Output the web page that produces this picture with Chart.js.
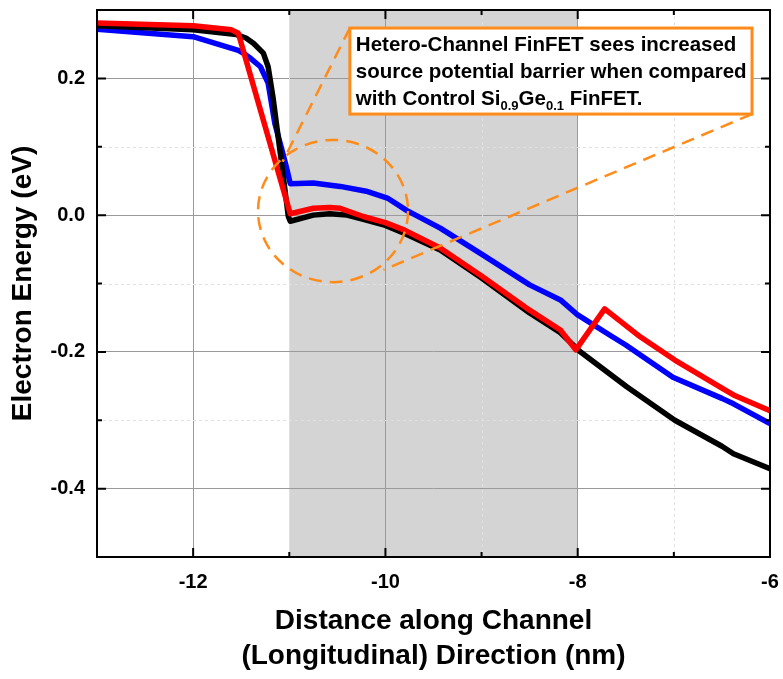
<!DOCTYPE html>
<html>
<head>
<meta charset="utf-8">
<script src="https://cdn.jsdelivr.net/npm/chart.js@4.4.1/dist/chart.umd.min.js"></script>
<style>
  body { margin: 0; background: #fff; }
  #wrap { width: 783px; height: 679px; }
</style>
</head>
<body>
<div id="wrap"><canvas id="myChart" width="783" height="679"></canvas></div>
<script>
// band energy along the channel (nm, eV)
var xBlack = [-13, -12, -11.55, -11.45, -11.37, -11.27, -11.22, -11.17, -11.08, -11.01, -10.99, -10.75, -10.58, -10.4, -10.23, -10.0, -9.8, -9.43, -9.0, -8.5, -8.18, -7.98, -7.49, -6.99, -6.5, -6.38, -6.0];
var yBlack = [0.277, 0.271, 0.264, 0.259, 0.251, 0.237, 0.217, 0.173, 0.076, -0.002, -0.009, 0.0, 0.002, 0.0, -0.006, -0.015, -0.027, -0.051, -0.092, -0.143, -0.172, -0.199, -0.251, -0.300, -0.338, -0.349, -0.371];

var xBlue = [-13, -12, -11.53, -11.48, -11.4, -11.3, -11.22, -11.15, -11.04, -10.99, -10.75, -10.47, -10.2, -9.98, -9.78, -9.43, -9.0, -8.5, -8.18, -8.0, -7.66, -7.5, -7.01, -6.5, -6.38, -6.0];
var yBlue = [0.272, 0.261, 0.241, 0.237, 0.229, 0.217, 0.193, 0.134, 0.076, 0.046, 0.047, 0.042, 0.035, 0.025, 0.007, -0.019, -0.057, -0.102, -0.124, -0.146, -0.176, -0.190, -0.237, -0.268, -0.276, -0.305];

var xRed = [-13, -12, -11.6, -11.53, -10.99, -10.75, -10.58, -10.47, -10.23, -10.0, -9.8, -9.43, -9.0, -8.5, -8.18, -8.02, -7.72, -7.35, -6.99, -6.5, -6.38, -6.0];
var yRed = [0.281, 0.277, 0.271, 0.266, 0.002, 0.010, 0.011, 0.010, -0.002, -0.011, -0.022, -0.048, -0.089, -0.139, -0.168, -0.197, -0.137, -0.178, -0.212, -0.253, -0.263, -0.286];

// axis ticks
var xTicks = [-13, -12, -11, -10, -9, -8, -7, -6];
var xMajor = [-12, -10, -8, -6];
var yTicks = [-0.5, -0.4, -0.3, -0.2, -0.1, 0.0, 0.1, 0.2, 0.3];
var yMajor = [-0.4, -0.2, 0.0, 0.2];

// channel region and callout (data units)
var channel = [-11, -8];
var circle = { x: -10.545, y: 0.006, rx: 0.78, ry: 0.104 };
var box = { x1: -10.37, x2: -6.187, y1: 0.2736, y2: 0.1478 };
var leader1 = [[-10.37, 0.2736], [-11.07, 0.078]];
var leader2 = [[-6.187, 0.1478], [-10.02, -0.08]];

var FONT = "'Liberation Sans', Arial, sans-serif";
var ORANGE = '#ff8c1a';

function pts(xs, ys) {
    return xs.map(function (x, i) { return { x: x, y: ys[i] }; });
}
function isMajor(list, v) {
    return list.some(function (m) { return Math.abs(m - v) < 1e-6; });
}
function noPad(s) {
    s.paddingLeft = 0; s.paddingRight = 0; s.paddingTop = 0; s.paddingBottom = 0;
}

var deco = {
    id: 'deco',
    beforeDraw: function (chart) {
        var c = chart.ctx, a = chart.chartArea, xs = chart.scales.x;
        var l = xs.getPixelForValue(channel[0]), r = xs.getPixelForValue(channel[1]);
        c.save();
        c.fillStyle = '#d4d4d4';
        c.fillRect(l, a.top, r - l, a.bottom - a.top);
        c.restore();
    },
    beforeDatasetsDraw: function (chart) {
        // minor dashed grid
        var c = chart.ctx, a = chart.chartArea, xs = chart.scales.x, ys = chart.scales.y;
        c.save();
        c.strokeStyle = '#e0e0e0';
        c.lineWidth = 1;
        c.setLineDash([3, 3]);
        xTicks.forEach(function (v) {
            if (isMajor(xMajor, v) || v === xTicks[0]) return;
            var p = Math.round(xs.getPixelForValue(v)) + 0.5;
            c.beginPath(); c.moveTo(p, a.top); c.lineTo(p, a.bottom); c.stroke();
        });
        yTicks.forEach(function (v) {
            if (isMajor(yMajor, v) || v === yTicks[0] || v === yTicks[yTicks.length - 1]) return;
            var p = Math.round(ys.getPixelForValue(v)) + 0.5;
            c.beginPath(); c.moveTo(a.left, p); c.lineTo(a.right, p); c.stroke();
        });
        c.restore();
    },
    afterDatasetsDraw: function (chart) {
        var c = chart.ctx, a = chart.chartArea, xs = chart.scales.x, ys = chart.scales.y;
        var X = function (v) { return xs.getPixelForValue(v); };
        var Y = function (v) { return ys.getPixelForValue(v); };
        c.save();
        // frame + inward ticks
        c.strokeStyle = '#000';
        c.lineWidth = 2;
        c.strokeRect(a.left, a.top, a.right - a.left, a.bottom - a.top);
        xTicks.forEach(function (v) {
            var len = isMajor(xMajor, v) ? 9 : 5, p = X(v);
            c.beginPath();
            c.moveTo(p, a.bottom); c.lineTo(p, a.bottom - len);
            c.moveTo(p, a.top); c.lineTo(p, a.top + len);
            c.stroke();
        });
        yTicks.forEach(function (v) {
            var len = isMajor(yMajor, v) ? 9 : 5, p = Y(v);
            c.beginPath();
            c.moveTo(a.left, p); c.lineTo(a.left + len, p);
            c.moveTo(a.right, p); c.lineTo(a.right - len, p);
            c.stroke();
        });

        // dashed circle and leader lines
        c.strokeStyle = ORANGE;
        c.lineWidth = 2.5;
        c.setLineDash([13, 8]);
        c.beginPath();
        c.ellipse(X(circle.x), Y(circle.y), X(circle.x + circle.rx) - X(circle.x),
            Y(circle.y) - Y(circle.y + circle.ry), 0, 0, Math.PI * 2);
        c.stroke();
        [leader1, leader2].forEach(function (ln) {
            c.beginPath();
            c.moveTo(X(ln[0][0]), Y(ln[0][1]));
            c.lineTo(X(ln[1][0]), Y(ln[1][1]));
            c.stroke();
        });
        c.setLineDash([]);

        // callout box
        var bx = X(box.x1), by = Y(box.y1), bw = X(box.x2) - bx, bh = Y(box.y2) - by;
        c.fillStyle = '#fff';
        c.fillRect(bx, by, bw, bh);
        c.lineWidth = 3;
        c.strokeRect(bx, by, bw, bh);

        var big = 'bold 20.5px ' + FONT, small = 'bold 13px ' + FONT;
        c.fillStyle = '#000';
        c.textBaseline = 'alphabetic';
        c.textAlign = 'left';
        var tx = bx + 6;
        c.font = big;
        c.fillText('Hetero-Channel FinFET sees increased', tx, by + 23);
        c.fillText('source potential barrier when compared', tx, by + 50);
        var parts = [['with Control Si', 0], ['0.9', 1], ['Ge', 0], ['0.1', 1], [' FinFET.', 0]];
        var cx = tx;
        parts.forEach(function (p) {
            c.font = p[1] ? small : big;
            c.fillText(p[0], cx, by + 77 + (p[1] ? 5 : 0));
            cx += c.measureText(p[0]).width;
        });
        c.restore();
    }
};

var ctx = document.getElementById('myChart').getContext('2d');
var chart = new Chart(ctx, {
    type: 'scatter',
    data: {
        datasets: [
            { label: 'Hetero', data: pts(xRed, yRed), borderColor: '#ff0000', order: 1 },
            { label: 'Control', data: pts(xBlack, yBlack), borderColor: '#000000', order: 2 },
            { label: 'Other', data: pts(xBlue, yBlue), borderColor: '#0000ff', order: 3 }
        ]
    },
    options: {
        responsive: false,
        animation: false,
        showLine: true,
        layout: { padding: { top: 10, right: 13, bottom: 0, left: 0 } },
        elements: {
            point: { radius: 0, hoverRadius: 0 },
            line: { borderWidth: 5.5, tension: 0, borderJoinStyle: 'round', borderCapStyle: 'butt' }
        },
        plugins: { legend: { display: false }, tooltip: { enabled: false } },
        scales: {
            x: {
                type: 'linear', min: -13, max: -6,
                afterBuildTicks: function (s) { s.ticks = xTicks.map(function (v) { return { value: v }; }); },
                afterFit: function (s) { s.height = 122; noPad(s); },
                ticks: {
                    autoSkip: false, maxRotation: 0, padding: 13, color: '#000',
                    font: { family: FONT, size: 20, weight: 'bold' },
                    callback: function (v) { return isMajor(xMajor, v) ? String(v) : ''; }
                },
                grid: {
                    drawTicks: false,
                    color: function (c) { return c.tick && isMajor(xMajor, c.tick.value) ? '#9a9a9a' : 'rgba(0,0,0,0)'; }
                },
                border: { display: false },
                title: {
                    display: true, color: '#000',
                    text: ['Distance along Channel', '(Longitudinal) Direction (nm)'],
                    font: { family: FONT, size: 28, weight: 'bold', lineHeight: 1.25 },
                    padding: { top: 0, bottom: 5 }
                }
            },
            y: {
                type: 'linear', min: -0.5, max: 0.3,
                afterBuildTicks: function (s) { s.ticks = yTicks.map(function (v) { return { value: v }; }); },
                afterFit: function (s) { s.width = 97; noPad(s); },
                ticks: {
                    padding: 12, color: '#000',
                    font: { family: FONT, size: 20, weight: 'bold' },
                    callback: function (v) { return isMajor(yMajor, v) ? v.toFixed(1) : ''; }
                },
                grid: {
                    drawTicks: false,
                    color: function (c) { return c.tick && isMajor(yMajor, c.tick.value) ? '#9a9a9a' : 'rgba(0,0,0,0)'; }
                },
                border: { display: false },
                title: {
                    display: true, color: '#000', text: 'Electron Energy (eV)',
                    font: { family: FONT, size: 28, weight: 'bold', lineHeight: 1.25 },
                    padding: { top: 6, bottom: 0 }
                }
            }
        }
    },
    plugins: [deco]
});
</script>
</body>
</html>
